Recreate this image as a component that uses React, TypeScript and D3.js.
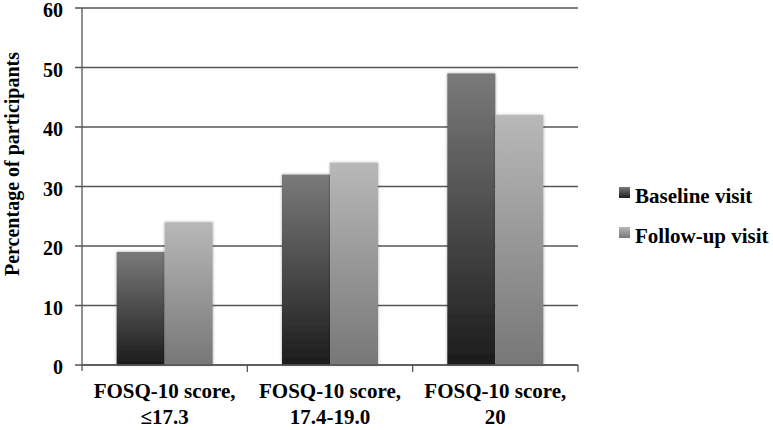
import React, { useEffect, useRef } from "react";
import * as d3 from "d3";

const categories = ["FOSQ-10 score, ≤17.3", "FOSQ-10 score, 17.4-19.0", "FOSQ-10 score, 20"];
const categoryLines = [
  ["FOSQ-10 score,", "≤17.3"],
  ["FOSQ-10 score,", "17.4-19.0"],
  ["FOSQ-10 score,", "20"],
];
const seriesNames = ["Baseline visit", "Follow-up visit"];
const baseline = [19, 32, 49];
const followUp = [24, 34, 42];
const yTicks = [0, 10, 20, 30, 40, 50, 60];

export default function App() {
  const svgRef = useRef<SVGSVGElement>(null);

  useEffect(() => {
    const svg = d3.select(svgRef.current);
    svg.selectAll("*").remove();
    const font = "'Liberation Serif', 'Times New Roman', serif";
    const margin = { top: 8, left: 82, right: 195, bottom: 65 };
    const width = 773;
    const height = 430;
    const plotW = width - margin.left - margin.right;
    const plotH = height - margin.top - margin.bottom;

    const defs = svg.append("defs");
    const grads = [
      { id: "g0", top: "#7a7a7a", bottom: "#1c1c1c" },
      { id: "g1", top: "#b8b8b8", bottom: "#777777" },
    ];
    grads.forEach((gd) => {
      const lg = defs.append("linearGradient").attr("id", gd.id)
        .attr("x1", 0).attr("y1", 0).attr("x2", 0).attr("y2", 1);
      lg.append("stop").attr("offset", "0%").attr("stop-color", gd.top);
      lg.append("stop").attr("offset", "100%").attr("stop-color", gd.bottom);
    });
    const flt = defs.append("filter").attr("id", "shadow")
      .attr("x", "-20%").attr("y", "-5%").attr("width", "140%").attr("height", "110%");
    flt.append("feDropShadow").attr("dx", 0).attr("dy", 0).attr("stdDeviation", 1.5)
      .attr("flood-color", "#000").attr("flood-opacity", 0.35);

    const g = svg.append("g").attr("transform", `translate(${margin.left},${margin.top})`);

    const x = d3.scaleBand().domain(categories).range([0, plotW]);
    const x1 = d3.scaleBand().domain(seriesNames).range([0, 96]);
    const y = d3.scaleLinear().domain([0, 60]).range([plotH, 0]);

    // gridlines + y ticks
    g.selectAll(".grid").data(yTicks).join("line")
      .attr("x1", -7).attr("x2", plotW)
      .attr("y1", (d) => y(d)).attr("y2", (d) => y(d))
      .attr("stroke", "#555").attr("stroke-width", 1.3);

    g.selectAll(".ytl").data(yTicks).join("text")
      .attr("x", -19).attr("y", (d) => y(d) + 9)
      .attr("text-anchor", "end")
      .attr("font-family", font).attr("font-weight", "bold").attr("font-size", 20)
      .text((d) => d);

    // axes lines
    g.append("line").attr("x1", 0).attr("x2", 0).attr("y1", 0).attr("y2", plotH + 6)
      .attr("stroke", "#555").attr("stroke-width", 1.3);

    const data = [baseline, followUp];
    categories.forEach((c, ci) => {
      const gx = x(c)! + (x.bandwidth() - 96) / 2;
      seriesNames.forEach((s, si) => {
        const v = data[si][ci];
        g.append("rect")
          .attr("x", gx + x1(s)!).attr("y", y(v))
          .attr("width", x1.bandwidth()).attr("height", plotH - y(v))
          .attr("fill", `url(#g${si})`).attr("filter", "url(#shadow)");
      });
    });

    g.append("line").attr("x1", 0).attr("x2", plotW).attr("y1", plotH).attr("y2", plotH)
      .attr("stroke", "#555").attr("stroke-width", 1.3);
    g.selectAll(".xtick").data(categories).join("line")
      .attr("x1", (d) => x(d)! + x.bandwidth()).attr("x2", (d) => x(d)! + x.bandwidth())
      .attr("y1", plotH).attr("y2", plotH + 7)
      .attr("stroke", "#555").attr("stroke-width", 1.3);

    // x labels
    categories.forEach((c, ci) => {
      const t = g.append("text")
        .attr("x", x(c)! + x.bandwidth() / 2).attr("y", plotH + 33)
        .attr("text-anchor", "middle")
        .attr("font-family", font).attr("font-weight", "bold").attr("font-size", 21);
      categoryLines[ci].forEach((ln, li) => {
        t.append("tspan").attr("x", x(c)! + x.bandwidth() / 2).attr("dy", li === 0 ? 0 : 26).text(ln);
      });
    });

    // y title
    svg.append("text")
      .attr("transform", `translate(19,164) rotate(-90)`)
      .attr("text-anchor", "middle")
      .attr("font-family", font).attr("font-weight", "bold").attr("font-size", 20)
      .text("Percentage of participants");

    // legend
    const lg = svg.append("g").attr("transform", "translate(619,0)");
    seriesNames.forEach((s, i) => {
      const yy = 203 + i * 40;
      lg.append("rect").attr("x", 0).attr("y", yy - 16).attr("width", 11).attr("height", 11)
        .attr("fill", `url(#g${i})`);
      lg.append("text").attr("x", 16).attr("y", yy)
        .attr("font-family", font).attr("font-weight", "bold").attr("font-size", 21)
        .text(s);
    });
  }, []);

  return (
    <svg ref={svgRef} width={773} height={430}
      style={{ position: "absolute", left: 0, top: 0, background: "#fff" }} />
  );
}
